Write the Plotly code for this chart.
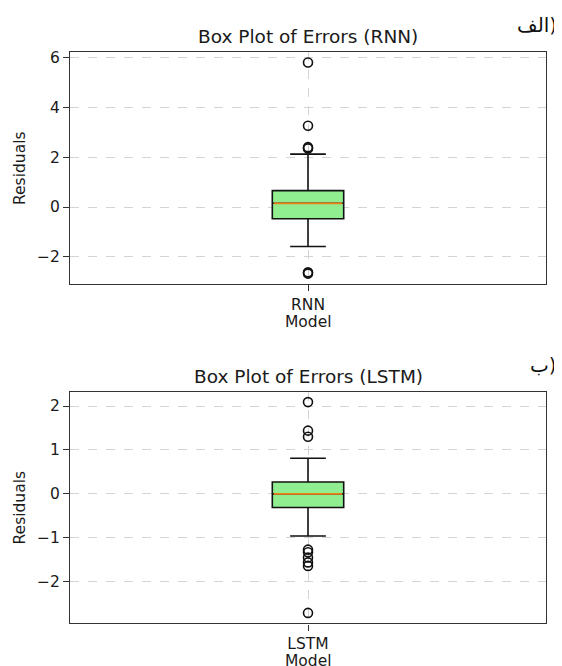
import plotly.graph_objects as go

# page is 562x666, but the html body has an 8px margin, so the figure is drawn 8px in
OFF = 8
W, H = 562 - OFF, 666 - OFF

# ---- data ----
models = ["RNN", "LSTM"]
titles = ["Box Plot of Errors (RNN)", "Box Plot of Errors (LSTM)"]
panel_tags = ["الف)", "ب)"]

rnn_q1, rnn_median, rnn_q3 = -0.47, 0.15, 0.66
rnn_low_whisker, rnn_high_whisker = -1.59, 2.13
rnn_outliers = [5.82, 3.27, 2.41, 2.36, -2.63, -2.68]

lstm_q1, lstm_median, lstm_q3 = -0.31, 0.0, 0.27
lstm_low_whisker, lstm_high_whisker = -0.96, 0.81
lstm_outliers = [2.09, 1.44, 1.30, -1.27, -1.33, -1.45, -1.56, -1.64, -2.71]

rnn_yticks = [-2, 0, 2, 4, 6]
lstm_yticks = [-2, -1, 0, 1, 2]

stats = [
    dict(q1=rnn_q1, med=rnn_median, q3=rnn_q3, lo=rnn_low_whisker, hi=rnn_high_whisker,
         out=rnn_outliers, ticks=rnn_yticks),
    dict(q1=lstm_q1, med=lstm_median, q3=lstm_q3, lo=lstm_low_whisker, hi=lstm_high_whisker,
         out=lstm_outliers, ticks=lstm_yticks),
]

# ---- layout geometry (page pixels) ----
BOX_W = 0.15
x_left, x_right = 70, 546
panels_px = [(50, 283), (390.7, 623.3)]  # top, bottom of each plot frame

def px(p):
    return (p - OFF) / W

def py(p):
    return 1 - (p - OFF) / H

FONT = "DejaVu Sans"
fig = go.Figure()
annotations = []
layout_axes = {}

for i, (s, name) in enumerate(zip(stats, models)):
    n = "" if i == 0 else str(i + 1)
    xa, ya = "x" + n, "y" + n
    allv = s["out"] + [s["lo"], s["hi"]]
    vmin, vmax = min(allv), max(allv)
    m = 0.05 * (vmax - vmin)
    yr = [vmin - m, vmax + m]

    fig.add_trace(go.Box(
        x=[1], q1=[s["q1"]], median=[s["med"]], q3=[s["q3"]],
        lowerfence=[s["lo"]], upperfence=[s["hi"]],
        width=BOX_W, whiskerwidth=0.5,
        fillcolor="#90ee90", line=dict(color="#111111", width=1.6),
        boxpoints=False, showlegend=False, hoverinfo="skip",
        xaxis=xa, yaxis=ya,
    ))
    fig.add_trace(go.Scatter(
        x=[1 - BOX_W / 2 + 0.003, 1 + BOX_W / 2 - 0.003], y=[s["med"], s["med"]],
        mode="lines", line=dict(color="#f0801a", width=1.8),
        showlegend=False, hoverinfo="skip", xaxis=xa, yaxis=ya,
    ))
    fig.add_trace(go.Scatter(
        x=[1] * len(s["out"]), y=s["out"], mode="markers",
        marker=dict(symbol="circle-open", size=9, color="#111111", line=dict(width=1.6)),
        showlegend=False, hoverinfo="skip", xaxis=xa, yaxis=ya,
    ))

    top, bot = panels_px[i]
    axis_common = dict(
        showline=True, linecolor="#333333", linewidth=1.3, mirror=True,
        ticks="outside", ticklen=6, tickwidth=1, tickcolor="#333333",
        showgrid=True, gridcolor="#d4d4d4", griddash="dash", gridwidth=1,
        zeroline=False, tickfont=dict(family=FONT, size=15.5, color="#1a1a1a"),
    )
    layout_axes["xaxis" + n] = dict(
        axis_common, domain=[px(x_left), px(x_right)], range=[0.5, 1.5],
        tickvals=[1], ticktext=[name], anchor=ya,
    )
    layout_axes["yaxis" + n] = dict(
        axis_common, domain=[py(bot), py(top)], range=yr,
        tickvals=s["ticks"], anchor=xa,
    )

    cx = px((x_left + x_right) / 2)
    annotations.append(dict(text=titles[i], x=cx, y=py(top - 15), xref="paper", yref="paper",
                            xanchor="center", yanchor="middle", showarrow=False,
                            font=dict(family=FONT, size=18.5, color="#1a1a1a")))
    annotations.append(dict(text="Model", x=cx, y=py(bot + 38), xref="paper", yref="paper",
                            xanchor="center", yanchor="middle", showarrow=False,
                            font=dict(family=FONT, size=15.5, color="#1a1a1a")))
    annotations.append(dict(text="Residuals", x=px(20), y=py((top + bot) / 2), xref="paper",
                            yref="paper", xanchor="center", yanchor="middle", textangle=-90,
                            showarrow=False, font=dict(family=FONT, size=15.5, color="#1a1a1a")))
    annotations.append(dict(text=panel_tags[i], x=px(559), y=py(top - 27), xref="paper",
                            yref="paper", xanchor="right", yanchor="middle", showarrow=False,
                            font=dict(family=FONT, size=20, color="#111111")))

fig.update_layout(
    width=W, height=H, margin=dict(l=0, r=0, t=0, b=0),
    paper_bgcolor="white", plot_bgcolor="white",
    annotations=annotations, **layout_axes,
)
fig.write_html("out.html")
